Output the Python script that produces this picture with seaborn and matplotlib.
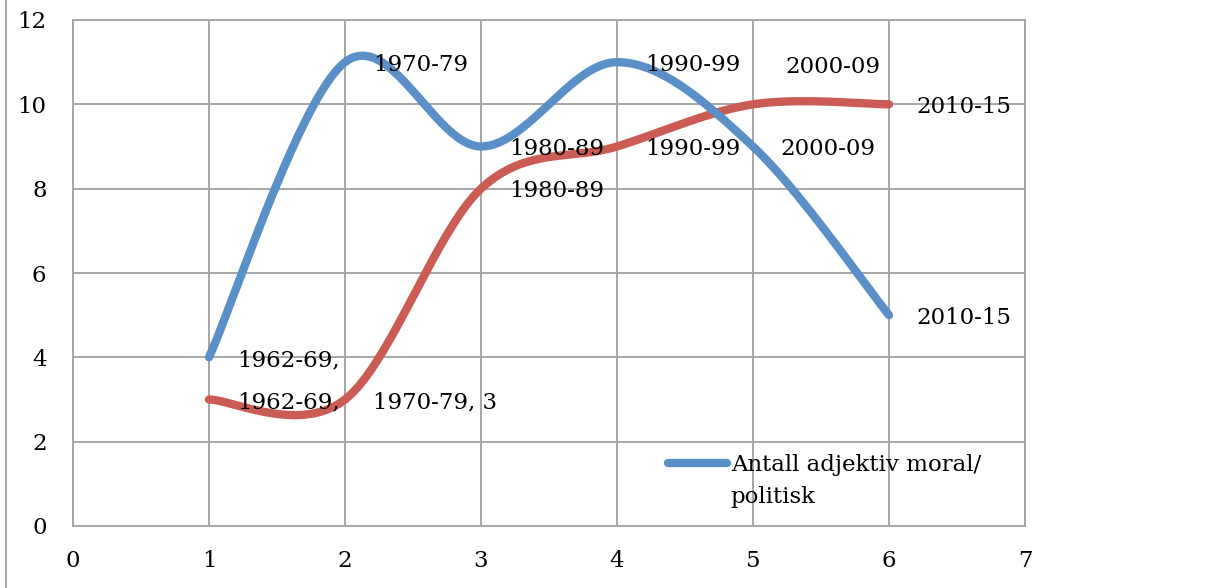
import numpy as np
import pandas as pd
import matplotlib
matplotlib.use("Agg")
import matplotlib.pyplot as plt
from matplotlib.lines import Line2D
import seaborn as sns

# data
x_vals = [1, 2, 3, 4, 5, 6]
blue_vals = [4, 11, 9, 11, 9, 5]
red_vals = [3, 3, 8, 9, 10, 10]
blue_labels = ["1962-69,", "1970-79", "1980-89", "1990-99", "2000-09", "2010-15"]
red_labels = ["1962-69,", "1970-79, 3", "1980-89", "1990-99", "2000-09", "2010-15"]
legend_lines = ["Antall adjektiv moral/", "politisk"]

BLUE = "#5A8FC8"
RED = "#CB5C53"
GRID = "#A6A6A6"
FS = 16.5

sns.set_style("white")
plt.rcParams["font.family"] = ["DejaVu Serif"]
plt.rcParams["text.color"] = "black"


def smooth(xs, ys, n=40):
    # Excel-style smoothed line: bezier through points, Catmull-Rom controls
    p = np.column_stack([xs, ys]).astype(float)
    p = np.vstack([p[0], p, p[-1]])
    out = []
    for i in range(1, len(p) - 2):
        p0, p1, p2, p3 = p[i - 1], p[i], p[i + 1], p[i + 2]
        c1 = p1 + (p2 - p0) / 6
        c2 = p2 - (p3 - p1) / 6
        t = np.linspace(0, 1, n)[:, None]
        seg = ((1 - t) ** 3) * p1 + 3 * ((1 - t) ** 2) * t * c1 + 3 * (1 - t) * t ** 2 * c2 + t ** 3 * p2
        out.append(seg if i == 1 else seg[1:])
    s = np.vstack(out)
    return pd.DataFrame({"x": s[:, 0], "y": s[:, 1]})


fig = plt.figure(figsize=(12.2, 5.88), dpi=100)
ax = fig.add_axes([73 / 1220, 1 - 526 / 588, (1025 - 73) / 1220, (526 - 20) / 588])

ax.set_xlim(0, 7)
ax.set_ylim(0, 12)
ax.set_xticks(range(0, 8))
ax.set_yticks(range(0, 13, 2))
ax.grid(True, color=GRID, linewidth=1.4)
for s in ax.spines.values():
    s.set_color(GRID)
    s.set_linewidth(1.4)
ax.tick_params(axis="both", direction="out", length=5, width=1.4, color=GRID,
               labelsize=FS, labelcolor="black")
ax.tick_params(axis="x", pad=12)
ax.tick_params(axis="y", pad=14)
ax.set_axisbelow(True)

blue_df = smooth(x_vals, blue_vals)
red_df = smooth(x_vals, red_vals)
sns.lineplot(data=red_df, x="x", y="y", sort=False, estimator=None, color=RED,
             linewidth=6, solid_capstyle="round", ax=ax)
sns.lineplot(data=blue_df, x="x", y="y", sort=False, estimator=None, color=BLUE,
             linewidth=6, solid_capstyle="round", ax=ax, label=legend_lines[0])
ax.set_xlabel("")
ax.set_ylabel("")

for xv, yv, lab in zip(x_vals, blue_vals, blue_labels):
    ax.annotate(lab, (xv, yv), xytext=(20, -2), textcoords="offset points",
                ha="left", va="center", fontsize=FS, color="black")
for i, (xv, yv, lab) in enumerate(zip(x_vals, red_vals, red_labels)):
    off = (23, 27) if i == 4 else (20, -2)
    ax.annotate(lab, (xv, yv), xytext=off, textcoords="offset points",
                ha="left", va="center", fontsize=FS, color="black")

leg = ax.legend(loc="upper left", bbox_to_anchor=(0.615, 0.16), frameon=False,
                fontsize=FS, handlelength=2.6, handletextpad=0.15, borderaxespad=0)
leg.get_texts()[0].set_color("black")
# legend label wraps onto a second line in the original
ax.text(0.691, 0.057, legend_lines[1], transform=ax.transAxes, ha="left", va="center",
        fontsize=FS, color="black")

# chart area border on the left
fig.add_artist(Line2D([5.5 / 1220, 5.5 / 1220], [0, 1], color=GRID, linewidth=1.4))

fig.savefig("out.png", dpi=100)
